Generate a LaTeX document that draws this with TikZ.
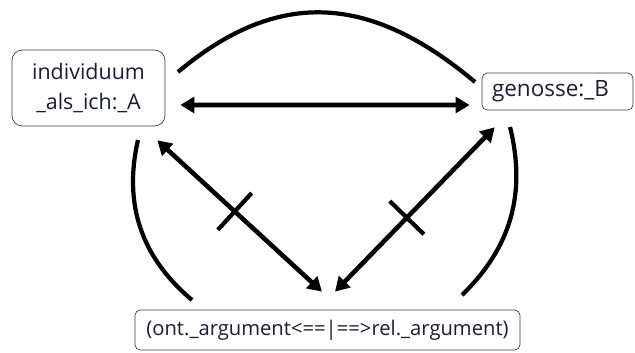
\documentclass[tikz,border=0pt]{standalone}
\usepackage{fontspec}
\setmainfont{Open Sans}
\usetikzlibrary{arrows.meta,calc}
\definecolor{ink}{HTML}{1B1B3A}
\definecolor{frame}{HTML}{3C3C3C}

\begin{document}
\begin{tikzpicture}[x=1cm,y=1cm,box/.style={draw=frame,thin,rounded corners=3pt,text=ink,font=\fontsize{11.5}{17}\selectfont,inner sep=0pt},link/.style={line width=2.6pt,{Triangle[length=8pt,width=9pt]}-{Triangle[length=8pt,width=9pt]}},bow/.style={line width=2.4pt},cut/.style={sloped,draw,line width=2.4pt,minimum height=1cm,minimum width=0pt,inner sep=0pt}]
\useasboundingbox (0,0) rectangle (12.7,7.04);
\node[box,rounded corners=6pt,minimum width=3.06cm,minimum height=1.52cm,align=center,font=\fontsize{12.2}{17}\selectfont] (ich) at (1.77,5.28) {individuum\\\_als\_ich:\_A};
\node[box,text width=2.62cm,inner xsep=0.2cm,minimum height=0.74cm,align=left,font=\fontsize{12.8}{17}\selectfont] (genosse) at (11.15,5.21) {genosse:\_B};
\node[box,minimum width=7.7cm,minimum height=0.8cm] (arg) at (6.55,0.44) {(ont.\_argument<==|==>rel.\_argument)};
\coordinate (top-l) at (3.56,5.6);
\coordinate (top-r) at (9.5,5.4);
\coordinate (left-t) at (2.76,4.24);
\coordinate (left-b) at (3.84,1.04);
\coordinate (right-t) at (10.2,4.5);
\coordinate (right-b) at (9.24,1.14);
\draw[link] ($(ich.east)+(0.3,-0.34)$) -- ($(genosse.west)+(-0.24,-0.27)$);
\draw[link] ($(ich.south east)+(-0.16,-0.28)$) -- node[cut,pos=0.47]{} ($(arg.north)+(-0.11,0.36)$);
\draw[link] ($(genosse.south west)+(0.26,-0.34)$) -- node[cut,pos=0.55,minimum height=0.95cm]{} ($(arg.north)+(0.15,0.36)$);
\draw[bow] (top-l) to[out=40,in=140,looseness=1.15] (top-r);
\draw[bow] (left-t) to[out=257,in=140] (left-b);
\draw[bow] (right-t) to[out=284,in=44] (right-b);
\end{tikzpicture}
\end{document}
